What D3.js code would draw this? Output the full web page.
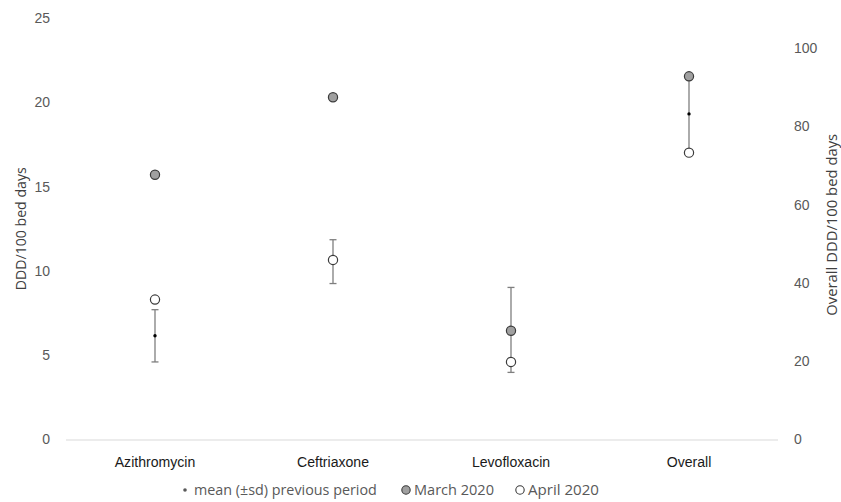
<!DOCTYPE html>
<html>
<head>
<meta charset="utf-8">
<script src="https://cdn.jsdelivr.net/npm/d3@7"></script>
<style>
  body { margin: 0; background: #fff; }
  svg { display: block; font-family: "Open Sans", sans-serif; }
  .domain { display: none; }
</style>
</head>
<body>
<div id="chart"></div>
<script>
// data
var categories = ["Azithromycin", "Ceftriaxone", "Levofloxacin", "Overall"];
var march2020 = [15.7, 20.3, 6.45, 92.8];
var april2020 = [8.3, 10.65, 4.6, 73.3];
var prevMean = [6.15, 10.55, 6.5, 83.2];
var prevSd = [1.55, 1.3, 2.52, 9.6];
var leftTicks = [0, 5, 10, 15, 20, 25];
var rightTicks = [0, 20, 40, 60, 80, 100];

var W = 841, H = 502;
var margin = {top: 18, right: 63, bottom: 62.5, left: 66};
var width = W - margin.left - margin.right,
    height = H - margin.top - margin.bottom;

var svg = d3.select("#chart").append("svg")
    .attr("width", W)
    .attr("height", H);

// shrink/grow a text so it is as wide as in the picture
function fitText(sel, target) {
    sel.each(function() {
        var el = d3.select(this);
        var fs = parseFloat(el.style("font-size"));
        var w = this.getComputedTextLength();
        if (w > 0) el.style("font-size", (fs * target / w).toFixed(2) + "px");
    });
}

var g = svg.append("g")
    .attr("transform", "translate(" + margin.left + "," + margin.top + ")");

var x = d3.scaleBand()
    .domain(categories)
    .range([0, width]);

// left axis for the drugs, right axis for Overall
var y = d3.scaleLinear().domain([0, 25]).range([height, 0]);
var y2 = d3.scaleLinear().domain([0, 107.7]).range([height, 0]);

function yFor(i) { return categories[i] == "Overall" ? y2 : y; }

// left axis
var yAxis = g.append("g")
    .call(d3.axisLeft(y).tickValues(leftTicks).tickSize(0).tickPadding(16));
yAxis.selectAll("text").attr("fill", "#595959").style("font-size", "14px");

// right axis
var y2Axis = g.append("g")
    .attr("transform", "translate(" + width + ",0)")
    .call(d3.axisRight(y2).tickValues(rightTicks).tickSize(0).tickPadding(16));
y2Axis.selectAll("text").attr("fill", "#595959").style("font-size", "14px");

// tick labels all the same size, "100" is about 24px wide
var probe = svg.append("text").style("font-size", "14px").text("100");
var tickSize = 14 * 24 / probe.node().getComputedTextLength();
probe.remove();
yAxis.selectAll("text").style("font-size", tickSize + "px");
y2Axis.selectAll("text").style("font-size", tickSize + "px");

// x axis line + labels
g.append("line")
    .attr("x1", 0).attr("x2", width)
    .attr("y1", height + 0.5).attr("y2", height + 0.5)
    .attr("stroke", "#d9d9d9").attr("stroke-width", 1);

var xAxis = g.append("g")
    .attr("transform", "translate(0," + height + ")")
    .call(d3.axisBottom(x).tickSize(0).tickPadding(12));
var xLabels = xAxis.selectAll("text").attr("fill", "#1a1a1a").style("font-size", "14px");
probe = svg.append("text").style("font-size", "14px").text("Azithromycin");
var catSize = 14 * 86 / probe.node().getComputedTextLength();
probe.remove();
xLabels.style("font-size", catSize + "px").attr("dy", null).attr("y", 27.5);

// axis titles
svg.append("text")
    .attr("transform", "translate(26," + (margin.top + height / 2) + ") rotate(-90)")
    .attr("text-anchor", "middle")
    .attr("fill", "#404040")
    .style("font-size", "14px")
    .text("DDD/100 bed days")
    .call(fitText, 123);

svg.append("text")
    .attr("transform", "translate(837," + (margin.top + height / 2 - 4) + ") rotate(-90)")
    .attr("text-anchor", "middle")
    .attr("fill", "#404040")
    .style("font-size", "14px")
    .text("Overall DDD/100 bed days")
    .call(fitText, 182);

var cx = function(i) { return x(categories[i]) + x.bandwidth() / 2; };
var idx = d3.range(categories.length);

// error bars (mean +- sd)
var bars = g.append("g").selectAll("g")
    .data(idx)
    .enter().append("g")
    .attr("stroke", "#7f7f7f")
    .attr("stroke-width", 1.3);

bars.append("line")
    .attr("x1", cx).attr("x2", cx)
    .attr("y1", function(i) { return yFor(i)(prevMean[i] + prevSd[i]); })
    .attr("y2", function(i) { return yFor(i)(prevMean[i] - prevSd[i]); });

[1, -1].forEach(function(s) {
    bars.append("line")
        .attr("x1", function(i) { return cx(i) - 3.5; })
        .attr("x2", function(i) { return cx(i) + 3.5; })
        .attr("y1", function(i) { return yFor(i)(prevMean[i] + s * prevSd[i]); })
        .attr("y2", function(i) { return yFor(i)(prevMean[i] + s * prevSd[i]); });
});

// mean dots
g.append("g").selectAll("circle")
    .data(idx)
    .enter().append("circle")
    .attr("cx", cx)
    .attr("cy", function(i) { return yFor(i)(prevMean[i]); })
    .attr("r", 1.7)
    .attr("fill", "#000");

// March 2020
g.append("g").selectAll("circle")
    .data(idx)
    .enter().append("circle")
    .attr("cx", cx)
    .attr("cy", function(i) { return yFor(i)(march2020[i]); })
    .attr("r", 4.6)
    .attr("fill", "#a0a0a0")
    .attr("stroke", "#3a3a3a")
    .attr("stroke-width", 1.2);

// April 2020
g.append("g").selectAll("circle")
    .data(idx)
    .enter().append("circle")
    .attr("cx", cx)
    .attr("cy", function(i) { return yFor(i)(april2020[i]); })
    .attr("r", 4.6)
    .attr("fill", "#fff")
    .attr("stroke", "#3a3a3a")
    .attr("stroke-width", 1.2);

// legend
var legend = svg.append("g").attr("transform", "translate(0,495)");
legend.append("circle").attr("cx", 185).attr("cy", -5).attr("r", 1.8).attr("fill", "#595959");
legend.append("text").attr("x", 194).attr("y", 0)
    .attr("fill", "#595959").style("font-size", "14px")
    .text("mean (\u00b1sd) previous period")
    .call(fitText, 183);
legend.append("circle").attr("cx", 406).attr("cy", -5).attr("r", 4.2)
    .attr("fill", "#a0a0a0").attr("stroke", "#3a3a3a").attr("stroke-width", 1.1);
legend.append("text").attr("x", 414).attr("y", 0)
    .attr("fill", "#595959").style("font-size", "14px")
    .text("March 2020")
    .call(fitText, 80);
legend.append("circle").attr("cx", 520).attr("cy", -5).attr("r", 4.2)
    .attr("fill", "#fff").attr("stroke", "#3a3a3a").attr("stroke-width", 1.1);
legend.append("text").attr("x", 528).attr("y", 0)
    .attr("fill", "#595959").style("font-size", "14px")
    .text("April 2020")
    .call(fitText, 71);
</script>
</body>
</html>
